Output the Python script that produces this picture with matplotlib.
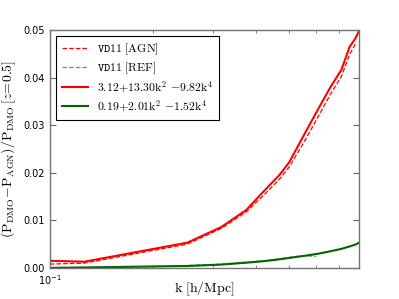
import numpy as np
import matplotlib
matplotlib.use("Agg")
import matplotlib.pyplot as plt
from matplotlib.ticker import NullFormatter

plt.rcParams['mathtext.fontset'] = 'cm'
plt.rcParams['xtick.direction'] = 'in'
plt.rcParams['ytick.direction'] = 'in'

# k [h/Mpc]
k_fit = [0.100, 0.126, 0.252, 0.317, 0.375, 0.420, 0.468, 0.500, 0.550, 0.610,
         0.660, 0.710, 0.750, 0.780, 0.800]
agn_fit = [0.0015, 0.0013, 0.0053, 0.0086, 0.0122, 0.0160, 0.0195, 0.0222, 0.0277,
           0.0336, 0.0380, 0.0416, 0.0464, 0.0482, 0.0498]
ref_fit = [0.0000, 0.0001, 0.0004, 0.0007, 0.0011, 0.0014, 0.0018, 0.0021, 0.0025,
           0.0030, 0.0035, 0.0040, 0.0045, 0.0049, 0.0053]

k_agn = [0.100, 0.126, 0.252, 0.317, 0.375, 0.420, 0.468, 0.500, 0.550, 0.610,
         0.660, 0.710, 0.750, 0.780]
agn_vd11 = [0.0008, 0.0010, 0.0050, 0.0083, 0.0118, 0.0152, 0.0186, 0.0212, 0.0262,
            0.0320, 0.0365, 0.0402, 0.0448, 0.0470]

k_ref = [0.100, 0.150, 0.200, 0.252, 0.317, 0.375, 0.420, 0.468, 0.500, 0.550, 0.600]
ref_vd11 = [0.0000, 0.0001, 0.0003, 0.0005, 0.0008, 0.0012, 0.0015, 0.0019, 0.0022,
            0.0026, 0.0024]

fig = plt.figure(figsize=(3.99, 2.99), dpi=100)
ax = fig.add_axes([0.125, 0.104, 0.775, 0.796])

ax.plot(k_agn, agn_vd11, '--', color='red', lw=0.9, label=r'$\mathtt{VD11}\ [\mathrm{AGN}]$')
ax.plot(k_ref, ref_vd11, '--', color='#55aa55', lw=0.9, label=r'$\mathtt{VD11}\ [\mathrm{REF}]$')
ax.plot(k_fit, agn_fit, '-', color='red', lw=1.5,
        label=r'$3.12\!+\!13.30\mathrm{k}^2\ \!-\!9.82\mathrm{k}^4$')
ax.plot(k_fit, ref_fit, '-', color='#006400', lw=1.5,
        label=r'$0.19\!+\!2.01\mathrm{k}^2\ \!-\!1.52\mathrm{k}^4$')

ax.set_xscale('log')
ax.set_xlim(0.1, 0.8)
ax.set_ylim(0.0, 0.05)
ax.set_yticks([0.0, 0.01, 0.02, 0.03, 0.04, 0.05])
ax.xaxis.set_minor_formatter(NullFormatter())
ax.tick_params(which='both', top=True, right=True, labelsize=7, color='0.4')
ax.tick_params(which='major', length=4)
ax.tick_params(which='minor', length=2.5)
ax.tick_params(axis='x', pad=3.5)
for s in ax.spines.values():
    s.set_color('0.45')
    s.set_linewidth(1.0)

ax.set_xlabel(r'$\mathrm{k}\ [\mathrm{h/Mpc}]$', fontsize=10)
ax.xaxis.set_label_coords(0.5, -0.048)
ax.set_ylabel(r'$(\mathrm{P}_{\mathrm{DMO}}\!-\!\mathrm{P}_{\mathrm{AGN}})/\mathrm{P}_{\mathrm{DMO}}\,[z\!=\!0.5]$',
              fontsize=10)

leg = ax.legend(loc='upper left', fontsize=8.5, handlelength=2.2, fancybox=False,
                framealpha=1, borderpad=0.5, labelspacing=0.3)
leg.get_frame().set_edgecolor('black')
leg.get_frame().set_linewidth(0.8)

fig.savefig('out.png', dpi=100)
